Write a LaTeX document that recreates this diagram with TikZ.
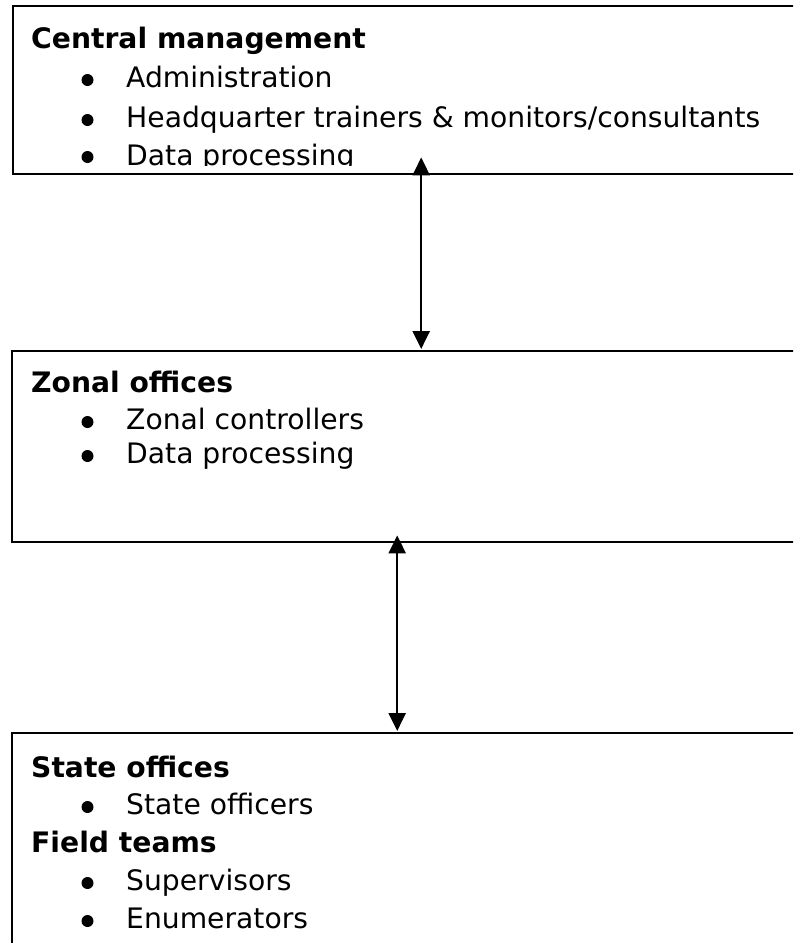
\documentclass[tikz,border=0pt]{standalone}
\usepackage{fontspec}
\setmainfont{DejaVu Sans}
\usetikzlibrary{arrows.meta}
\tikzset{
  box/.style={draw=black, line width=2.4pt, rectangle, anchor=north west, inner sep=0pt},
  head/.style={anchor=base west, inner sep=0pt, font=\fontsize{28.2}{33}\selectfont\bfseries},
  item/.style={anchor=base west, inner sep=0pt, font=\fontsize{28.2}{33}\selectfont},
  dot/.style={circle, fill=black, inner sep=0pt, minimum size=12pt},
  link/.style={line width=2.4pt, {Triangle[width=17pt,length=18pt]}-{Triangle[width=17pt,length=18pt]}}
}
\begin{document}
\begin{tikzpicture}[x=1pt,y=-1pt]
\clip (0,0) rectangle (793,943);
\fill[white] (0,0) rectangle (793,943);
% boxes
\node[box, minimum width=816pt, minimum height=168pt] (cm) at (12,5) {};
\node[box, minimum width=800pt, minimum height=191pt] (zo) at (11,350) {};
\node[box, minimum width=800pt, minimum height=260pt] (so) at (11,732) {};
% central management text (clipped by the box)
\begin{scope}
\clip (12,5) rectangle (828,165);
\node[head] (cmh) at (31,48) {Central management};
\node[dot] (cmb1) at (87.5,80) {};
\node[item] (cmi1) at (126,87) {Administration};
\node[dot] (cmb2) at (87.5,120) {};
\node[item] (cmi2) at (126,127) {Headquarter trainers \& monitors/consultants};
\node[dot] (cmb3) at (87.5,157) {};
\node[item] (cmi3) at (126,165) {Data processing};
\end{scope}
% zonal offices text
\node[head] (zoh) at (31,392) {Zonal offices};
\node[dot] (zob1) at (87.5,422) {};
\node[item] (zoi1) at (126,429) {Zonal controllers};
\node[dot] (zob2) at (87.5,456) {};
\node[item] (zoi2) at (126,463) {Data processing};
% state offices / field teams text
\node[head] (soh) at (31,777) {State offices};
\node[dot] (sob1) at (87.5,807) {};
\node[item] (soi1) at (126,814) {State officers};
\node[head] (fth) at (31,852) {Field teams};
\node[dot] (ftb1) at (87.5,883) {};
\node[item] (fti1) at (126,890) {Supervisors};
\node[dot] (ftb2) at (87.5,921) {};
\node[item] (fti2) at (126,928) {Enumerators};
% connectors
\draw[link] ([yshift=18pt]cm.south) -- ([xshift=9pt,yshift=1pt]zo.north);
\draw[link] ([xshift=-15pt,yshift=8pt]zo.south) -- ([xshift=-15pt,yshift=1pt]so.north);
\end{tikzpicture}
\end{document}
